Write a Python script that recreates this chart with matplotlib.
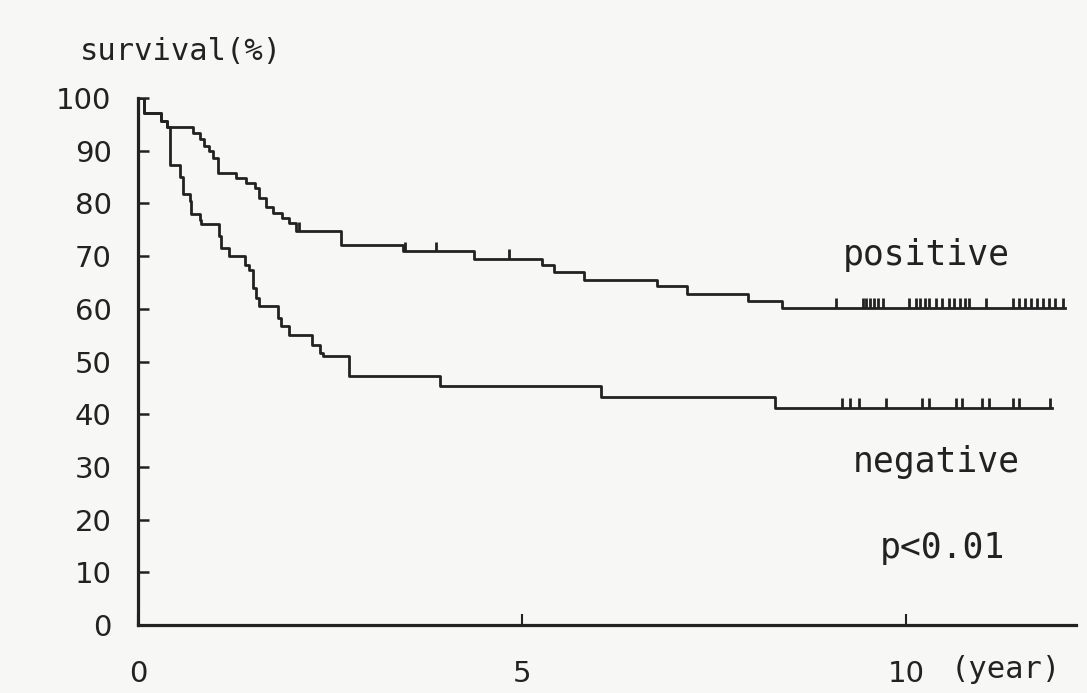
import numpy as np
import matplotlib.pyplot as plt

# survival curves (years, %)
t_pos = [0, 0.08, 0.30, 0.38, 0.72, 0.80, 0.86, 0.92, 0.98, 1.04, 1.28, 1.40,
         1.52, 1.58, 1.66, 1.76, 1.88, 1.97, 2.06, 2.64, 3.45, 4.37, 5.26,
         5.42, 5.81, 6.75, 7.14, 7.94, 8.38, 12.06]
s_pos = [100, 97.2, 95.6, 94.5, 93.4, 92.2, 90.8, 89.9, 88.6, 85.8, 84.8, 83.9,
         82.9, 81.0, 79.3, 78.2, 77.2, 76.3, 74.7, 72.2, 70.9, 69.5, 68.3,
         67.0, 65.5, 64.3, 62.8, 61.5, 60.2, 60.2]

t_neg = [0, 0.08, 0.30, 0.38, 0.42, 0.54, 0.58, 0.67, 0.69, 0.80, 0.82, 1.06,
         1.08, 1.17, 1.19, 1.39, 1.41, 1.45, 1.49, 1.54, 1.58, 1.82, 1.86,
         1.97, 2.26, 2.37, 2.41, 2.74, 3.93, 6.03, 8.29, 11.89]
s_neg = [100, 97.2, 95.6, 94.5, 87.3, 85.1, 81.7, 80.4, 77.9, 76.9, 76.0, 73.8,
         71.5, 71.5, 70.0, 68.4, 68.4, 67.4, 63.9, 62.0, 60.5, 58.3, 56.7,
         55.1, 53.2, 51.6, 51.0, 47.2, 45.3, 43.2, 41.2, 41.2]

# censored observations
c_pos = [0.02, 0.05, 2.10, 3.47, 3.88, 4.83, 9.08, 9.43, 9.48, 9.53, 9.58,
         9.63, 9.69, 10.04, 10.12, 10.18, 10.24, 10.30, 10.38, 10.47, 10.55,
         10.62, 10.70, 10.76, 10.82, 11.04, 11.39, 11.47, 11.55, 11.62, 11.70,
         11.78, 11.86, 11.94, 12.04]
c_neg = [9.16, 9.27, 9.39, 9.73, 10.20, 10.30, 10.64, 10.73, 10.99, 11.08,
         11.39, 11.47, 11.87]

ink = '#222222'
bg = '#f7f7f6'
mono = 'DejaVu Sans Mono'

fig = plt.figure(figsize=(10.87, 6.93), dpi=100, facecolor=bg)
ax = fig.add_axes([0.127, 0.0981, 0.863, 0.7605])
ax.set_facecolor(bg)


def censor_heights(times, t_steps, s_steps):
    idx = np.searchsorted(t_steps, times, side='right') - 1
    return np.array(s_steps)[idx]


for t, s, c in [(t_pos, s_pos, c_pos), (t_neg, s_neg, c_neg)]:
    ax.step(t, s, where='post', color=ink, lw=2.0)
    h = censor_heights(c, t, s)
    ax.vlines(c, h, h + 1.8, color=ink, lw=2.0)

ax.set_xlim(0, 12.21)
ax.set_ylim(0, 100)
for side in ['top', 'right']:
    ax.spines[side].set_visible(False)
for side in ['left', 'bottom']:
    ax.spines[side].set_linewidth(2.3)
    ax.spines[side].set_color(ink)

ax.set_yticks(np.arange(0, 101, 10))
ax.set_xticks([0, 5, 10])
ax.tick_params(axis='y', direction='in', length=8, width=1.8, colors=ink,
               labelsize=21, pad=19)
ax.tick_params(axis='x', direction='in', length=8, width=1.5, colors=ink,
               labelsize=21, pad=25)

ax.text(-0.755, 108.9, 'survival(%)', family=mono, fontsize=22, color=ink,
        ha='left', va='center')
ax.text(10.26, 70.2, 'positive', family=mono, fontsize=25, color=ink,
        ha='center', va='center')
ax.text(10.39, 30.9, 'negative', family=mono, fontsize=25, color=ink,
        ha='center', va='center')
ax.text(10.47, 14.6, 'p<0.01', family=mono, fontsize=25, color=ink,
        ha='center', va='center')
ax.text(11.29, -8.5, '(year)', family=mono, fontsize=22, color=ink,
        ha='center', va='center')

fig.savefig('out.png', dpi=100, facecolor=bg)
